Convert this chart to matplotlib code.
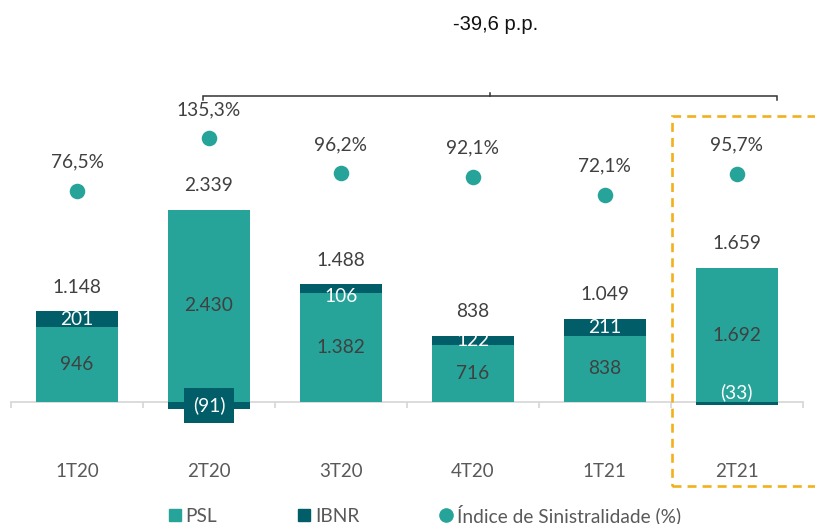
import matplotlib
matplotlib.use("Agg")
import matplotlib.pyplot as plt
import matplotlib.transforms as mtransforms
from matplotlib.patches import Rectangle
from matplotlib.lines import Line2D
import numpy as np

plt.rcParams['font.family'] = ['Lato', 'DejaVu Sans']

# ---- data ----
categories = ["1T20", "2T20", "3T20", "4T20", "1T21", "2T21"]
psl = [946, 2430, 1382, 716, 838, 1692]
ibnr = [201, -91, 106, 122, 211, -33]
totals = [1148, 2339, 1488, 838, 1049, 1659]
indice = [76.5, 135.3, 96.2, 92.1, 72.1, 95.7]
variation_label = "-39,6 p.p."
legend_labels = ["PSL", "IBNR", "Índice de Sinistralidade (%)"]

C_PSL = "#26A499"
C_IBNR = "#015E69"
C_TXT = "#404040"
C_AX = "#595959"
C_ORANGE = "#F2B11C"
FS = 13.8


def fmt_int(v):
    s = f"{abs(v):,}".replace(",", ".")
    return f"({s})" if v < 0 else s


def fmt_pct(v):
    return f"{v:.1f}".replace(".", ",") + "%"


fig = plt.figure(figsize=(8.15, 5.24), dpi=100)
ax = fig.add_axes([0, 0, 1, 1])
ax.set_xlim(-0.585, 5.594)
ax.set_ylim(-1543, 5085)
ax.patch.set_visible(False)

for s in ["top", "left", "right"]:
    ax.spines[s].set_visible(False)
ax.spines["bottom"].set_position(("data", 0))
ax.spines["bottom"].set_bounds(-0.5, 5.5)
ax.spines["bottom"].set_color("#D9D9D9")
ax.spines["bottom"].set_linewidth(1.3)
ax.spines["bottom"].set_zorder(0.5)
ax.set_yticks([])
x = np.arange(len(categories))
ax.set_xticks(x)
ax.set_xticklabels(categories, fontsize=13.5, color=C_AX)
ax.tick_params(axis="x", which="major", length=0, pad=44)
ax.set_xticks(np.arange(-0.5, len(categories)), minor=True)
ax.tick_params(axis="x", which="minor", length=4.5, width=1.3, color="#D9D9D9", direction="out")

w = 0.624
ibnr_arr = np.array(ibnr)
psl_arr = np.array(psl)
ibnr_bottom = np.where(ibnr_arr > 0, psl_arr, 0)
ax.bar(x, psl, width=w, color=C_PSL, zorder=2)
ax.bar(x, ibnr, width=w, bottom=ibnr_bottom, color=C_IBNR, zorder=2)

# small manual nudges of individual labels (points), as in the source chart
ibnr_label_nudge = {2: -6}

for i in range(len(categories)):
    ax.text(x[i], psl[i] / 2, fmt_int(psl[i]), ha="center", va="center",
            fontsize=FS, color=C_TXT, zorder=5)
    v = ibnr[i]
    if v > 0:
        ax.annotate(fmt_int(v), (x[i], psl[i] + v / 2), xytext=(0, ibnr_label_nudge.get(i, 0)),
                    textcoords="offset points", ha="center", va="center",
                    fontsize=FS, color="white", zorder=5)
    elif abs(v) > 60:
        ax.text(x[i], v / 2, fmt_int(v), ha="center", va="center",
                fontsize=FS, color="white", zorder=5,
                bbox=dict(boxstyle="square,pad=0.45", fc=C_IBNR, ec="none"))
    else:
        ax.annotate(fmt_int(v), (x[i], 0), xytext=(0, 7), textcoords="offset points",
                    ha="center", va="center", fontsize=FS, color="white", zorder=5)
    top = psl[i] + max(v, 0)
    ax.annotate(fmt_int(totals[i]), (x[i], top), xytext=(0, 17.5), textcoords="offset points",
                ha="center", va="center", fontsize=FS, color=C_TXT)

ax2 = ax.twinx()
ax2.set_ylim(-297.5, 290.5)
ax2.axis("off")
ax2.scatter(x, indice, s=125, color=C_PSL, zorder=4, linewidths=0)
for i in range(len(categories)):
    ax2.annotate(fmt_pct(indice[i]), (x[i], indice[i]), xytext=(0, 20.5),
                 textcoords="offset points", ha="center", va="center",
                 fontsize=FS, color=C_TXT)

# bracket
bt = mtransforms.blended_transform_factory(ax.transData, ax.transAxes)
yb = 428 / 524
tip = 4 / 524
xl, xr, xc = 0.954, 5.306, 3.130
ax.plot([xl, xl, xr, xr], [yb - tip, yb, yb, yb - tip], color="#333333", lw=1.1,
        transform=bt, clip_on=False, solid_joinstyle="miter")
ax.plot([xc, xc], [yb, yb + 3 / 524], color="#333333", lw=1.1, transform=bt, clip_on=False)
ax.text(3.17, 499 / 524, variation_label, transform=bt, ha="center", va="center",
        fontsize=14.5, color="#111111", family=["Liberation Sans", "DejaVu Sans"])

# highlight box
rect = Rectangle((4.51, 38 / 524), 1.5, 370 / 524, transform=bt, fill=False,
                 ec=C_ORANGE, lw=1.9, ls=(0, (3.4, 2.3)), clip_on=False, zorder=6)
ax.add_patch(rect)

# legend
handles = [Line2D([], [], marker="s", ls="", markersize=8, color=C_PSL),
           Line2D([], [], marker="s", ls="", markersize=8, color=C_IBNR),
           Line2D([], [], marker="o", ls="", markersize=9.5, color=C_PSL)]
leg = fig.legend(handles, legend_labels, loc="center", bbox_to_anchor=(0.521, 0.018),
                 ncol=3, frameon=False, columnspacing=4.2, handletextpad=0.2,
                 handlelength=0.7, fontsize=FS, borderpad=0)
for t in leg.get_texts():
    t.set_color(C_AX)

fig.savefig("out.png", dpi=100)
